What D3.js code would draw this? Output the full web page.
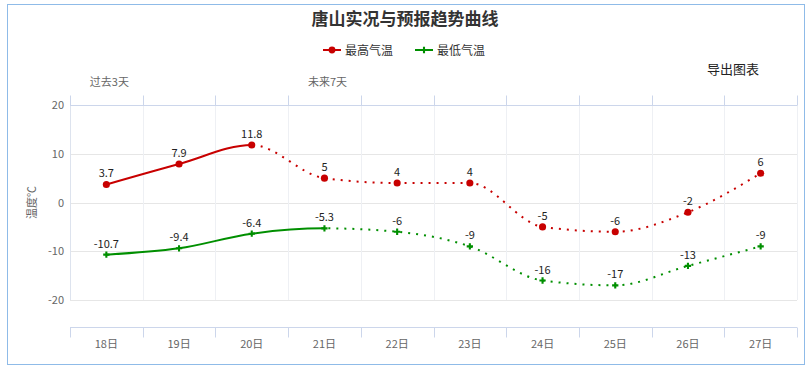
<!DOCTYPE html>
<html>
<head>
<meta charset="utf-8">
<script src="https://cdn.jsdelivr.net/npm/d3@7/dist/d3.min.js"></script>
<style>
  body { margin: 0; background: #fff; }
  text { font-family: "Noto Sans CJK SC", "DejaVu Sans", sans-serif; }
</style>
</head>
<body>
<div id="body"></div>
<script>
var days = ["18日", "19日", "20日", "21日", "22日", "23日", "24日", "25日", "26日", "27日"];
var maxTemp = [3.7, 7.9, 11.8, 5, 4, 4, -5, -6, -2, 6];
var minTemp = [-10.7, -9.4, -6.4, -5.3, -6, -9, -16, -17, -13, -9];
var maxSolidUntil = 2;   // index of last observed point
var minSolidUntil = 3;
var topLabels = ["过去3天", "", "", "未来7天", "", "", "", "", "", ""];
var yTicks = [-20, -10, 0, 10, 20];

var width = 811;
var height = 370;

var svg = d3.select("#body").append("svg")
  .attr("width", width)
  .attr("height", height);

var plotLeft = 70, plotRight = 797, plotTop = 105, plotBottom = 300;

var x = d3.scaleBand().domain(days).range([plotLeft, plotRight]);
var y = d3.scaleLinear().domain([-20, 20]).range([plotBottom, plotTop]);

var redColor = "#c80000";
var greenColor = "#008f00";
var gridColor = "#e6e6e6";
var axisColor = "#ccd6eb";
var labelColor = "#666666";

// outer border
svg.append("rect")
  .attr("x", 7.5).attr("y", 4.5)
  .attr("width", 797).attr("height", 360)
  .attr("fill", "none")
  .attr("stroke", "#8fbbe8")
  .attr("stroke-width", 1);

// title
svg.append("text")
  .attr("x", 405).attr("y", 25)
  .attr("text-anchor", "middle")
  .attr("font-size", 17)
  .attr("font-weight", "bold")
  .attr("fill", "#333")
  .text("唐山实况与预报趋势曲线");

// legend
var legend = [
  { name: "最高气温", color: redColor, x: 323, symbol: d3.symbolCircle, size: 36 },
  { name: "最低气温", color: greenColor, x: 415, symbol: d3.symbolCross, size: 22 }
];
var lg = svg.append("g").selectAll("g").data(legend).enter().append("g")
  .attr("transform", function (d) { return "translate(" + d.x + ",50)"; });
lg.append("line")
  .attr("x1", 0).attr("x2", 18)
  .attr("stroke", function (d) { return d.color; })
  .attr("stroke-width", 2);
lg.append("path")
  .attr("transform", "translate(9,0)")
  .attr("d", function (d) { return d3.symbol().type(d.symbol).size(d.size)(); })
  .attr("fill", function (d) { return d.color; });
lg.append("text")
  .attr("x", 22).attr("y", 4.5)
  .attr("font-size", 12)
  .attr("fill", "#333")
  .text(function (d) { return d.name; });

// export text
svg.append("text")
  .attr("x", 707).attr("y", 74)
  .attr("font-size", 13)
  .attr("fill", "#222")
  .text("导出图表");

// horizontal grid
svg.append("g").selectAll("line").data(yTicks.filter(function (d) { return d < 20; }))
  .enter().append("line")
  .attr("x1", plotLeft).attr("x2", plotRight)
  .attr("y1", function (d) { return Math.round(y(d)) + 0.5; })
  .attr("y2", function (d) { return Math.round(y(d)) + 0.5; })
  .attr("stroke", gridColor);

// vertical grid
var bounds = days.map(function (d) { return x(d); }).concat([plotRight]);
svg.append("g").selectAll("line").data(bounds).enter().append("line")
  .attr("x1", function (d) { return Math.round(d) + 0.5; })
  .attr("x2", function (d) { return Math.round(d) + 0.5; })
  .attr("y1", plotTop).attr("y2", plotBottom)
  .attr("stroke", function (d, i) { return i === 0 ? "#dde3ee" : "#eef0f4"; });

// top axis
var topAxis = svg.append("g").attr("transform", "translate(0," + (plotTop + 0.5) + ")");
topAxis.append("line").attr("x1", plotLeft).attr("x2", plotRight).attr("stroke", axisColor);
topAxis.selectAll("line.tick").data(bounds).enter().append("line")
  .attr("class", "tick")
  .attr("x1", function (d) { return Math.round(d) + 0.5; })
  .attr("x2", function (d) { return Math.round(d) + 0.5; })
  .attr("y1", 0).attr("y2", -10)
  .attr("stroke", axisColor);
topAxis.selectAll("text").data(days).enter().append("text")
  .attr("x", function (d) { return x(d) + x.bandwidth() / 2 + 3; })
  .attr("y", -20)
  .attr("text-anchor", "middle")
  .attr("font-size", 11)
  .attr("fill", labelColor)
  .text(function (d, i) { return topLabels[i]; });

// bottom axis (offset)
var axisY = 327;
var bottomAxis = svg.append("g").attr("transform", "translate(0," + (axisY + 0.5) + ")");
bottomAxis.append("line").attr("x1", plotLeft).attr("x2", plotRight).attr("stroke", axisColor);
bottomAxis.selectAll("line.tick").data(bounds).enter().append("line")
  .attr("class", "tick")
  .attr("x1", function (d) { return Math.round(d) + 0.5; })
  .attr("x2", function (d) { return Math.round(d) + 0.5; })
  .attr("y1", 0).attr("y2", 10)
  .attr("stroke", axisColor);
bottomAxis.selectAll("text").data(days).enter().append("text")
  .attr("x", function (d) { return x(d) + x.bandwidth() / 2; })
  .attr("y", 20)
  .attr("text-anchor", "middle")
  .attr("font-size", 11)
  .attr("fill", labelColor)
  .text(function (d) { return d; });

// y labels
svg.append("g").selectAll("text").data(yTicks).enter().append("text")
  .attr("x", 64)
  .attr("y", function (d) { return y(d) + 4; })
  .attr("text-anchor", "end")
  .attr("font-size", 11)
  .attr("fill", labelColor)
  .text(function (d) { return d; });

svg.append("text")
  .attr("transform", "translate(36," + y(0) + ") rotate(-90)")
  .attr("text-anchor", "middle")
  .attr("font-size", 11)
  .attr("fill", labelColor)
  .text("温度℃");

// series
var series = [
  { values: maxTemp, color: redColor, solid: maxSolidUntil, symbol: d3.symbolCircle, size: 40, id: "max" },
  { values: minTemp, color: greenColor, solid: minSolidUntil, symbol: d3.symbolCross, size: 22, id: "min" }
];

var defs = svg.append("defs");
var cx = function (i) { return x(days[i]) + x.bandwidth() / 2; };

series.forEach(function (s) {
  var pts = s.values.map(function (v, i) { return [cx(i), y(v)]; });
  var lineGen = d3.line().curve(d3.curveMonotoneX);
  var splitX = cx(s.solid);

  defs.append("clipPath").attr("id", "solid-" + s.id)
    .append("rect").attr("x", 0).attr("y", 0).attr("width", splitX).attr("height", height);
  defs.append("clipPath").attr("id", "dot-" + s.id)
    .append("rect").attr("x", splitX).attr("y", 0).attr("width", width - splitX).attr("height", height);

  // observed part, solid
  svg.append("path")
    .attr("d", lineGen(pts))
    .attr("fill", "none")
    .attr("stroke", s.color)
    .attr("stroke-width", 2)
    .attr("clip-path", "url(#solid-" + s.id + ")");

  // forecast part, dotted
  svg.append("path")
    .attr("d", lineGen(pts))
    .attr("fill", "none")
    .attr("stroke", s.color)
    .attr("stroke-width", 2)
    .attr("stroke-dasharray", "2,6")
    .attr("clip-path", "url(#dot-" + s.id + ")");

  svg.append("g").selectAll("path").data(pts).enter().append("path")
    .attr("transform", function (d) { return "translate(" + d[0] + "," + d[1] + ")"; })
    .attr("d", d3.symbol().type(s.symbol).size(s.size)())
    .attr("fill", s.color);

  svg.append("g").selectAll("text").data(s.values).enter().append("text")
    .attr("x", function (d, i) { return cx(i); })
    .attr("y", function (d) { return y(d) - 7; })
    .attr("text-anchor", "middle")
    .attr("font-size", 11)
    .attr("fill", "#222")
    .text(function (d) { return d; });
});
</script>
</body>
</html>
